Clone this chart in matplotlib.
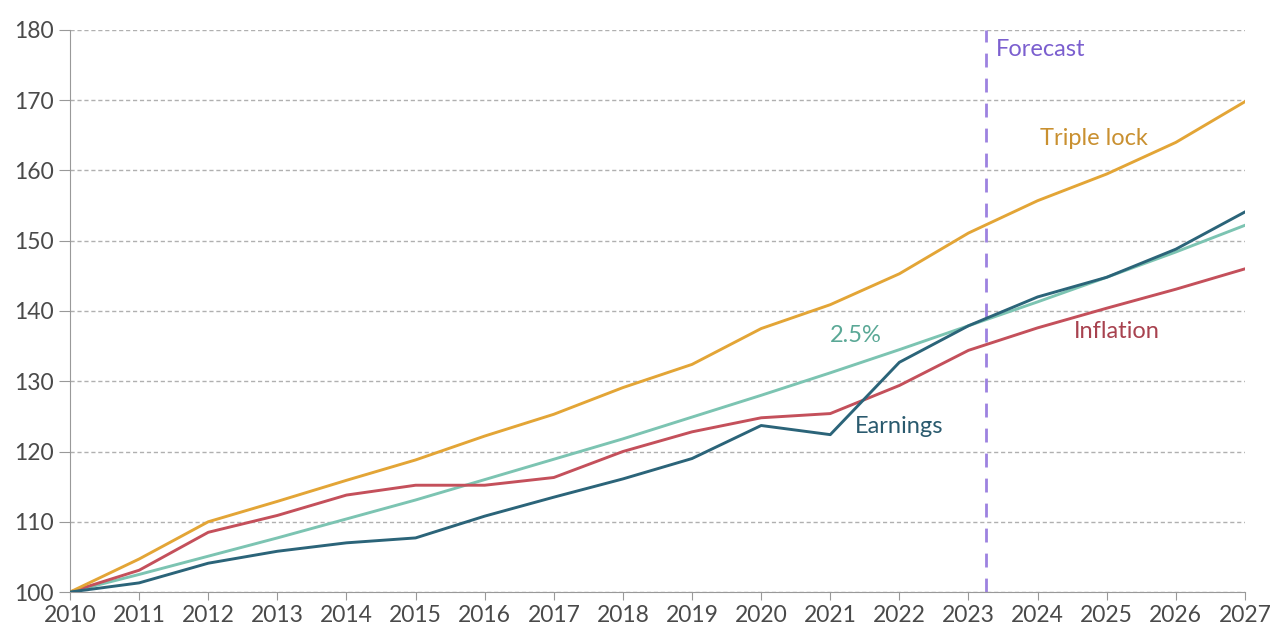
import matplotlib
matplotlib.use("Agg")
import matplotlib.pyplot as plt

plt.rcParams['font.family'] = ['Lato', 'DejaVu Sans']

# Index values (2010 = 100)
years = list(range(2010, 2028))
triple_lock = [100, 104.7, 110.0, 112.9, 115.9, 118.8, 122.2, 125.3, 129.1, 132.4,
               137.5, 140.9, 145.3, 151.1, 155.7, 159.5, 164.0, 169.8]
earnings = [100, 101.3, 104.1, 105.8, 107.0, 107.7, 110.8, 113.5, 116.1, 119.0,
            123.7, 122.4, 132.7, 137.9, 142.0, 144.8, 148.8, 154.1]
inflation = [100, 103.1, 108.5, 110.9, 113.8, 115.2, 115.2, 116.3, 120.0, 122.8,
             124.8, 125.4, 129.4, 134.4, 137.6, 140.4, 143.1, 146.0]
flat_25 = [100, 102.5, 105.1, 107.7, 110.4, 113.1, 116.0, 118.9, 121.8, 124.9,
           128.0, 131.2, 134.5, 137.9, 141.3, 144.8, 148.4, 152.2]
forecast_start = 2023.25

fig = plt.figure(figsize=(12.71, 6.30), dpi=100)
ax = fig.add_axes([0.0551, 0.0603, 0.9244, 0.8921])

ax.plot(years, flat_25, color='#7cc4b2', lw=2.1, zorder=3)
ax.plot(years, inflation, color='#c4505b', lw=2.1, zorder=4)
ax.plot(years, earnings, color='#2b6479', lw=2.1, zorder=5)
ax.plot(years, triple_lock, color='#e3a536', lw=2.1, zorder=4)

ax.axvline(forecast_start, color='#9d82e0', lw=2, ls=(0, (5, 4)), zorder=2)
ax.text(forecast_start + 0.15, 177.2, 'Forecast', color='#7b5fcf', fontsize=17, va='center')

ax.text(2024.03, 164.6, 'Triple lock', color='#c99030', fontsize=17, va='center')
ax.text(2021.0, 136.5, '2.5%', color='#5aa896', fontsize=17, va='center')
ax.text(2024.53, 137.1, 'Inflation', color='#a8424f', fontsize=17, va='center')
ax.text(2021.36, 123.5, 'Earnings', color='#2a5a6e', fontsize=17, va='center')

ax.set_xlim(2010, 2027)
ax.set_ylim(100, 180)
ax.set_xticks(years)
ax.set_yticks(range(100, 181, 10))
ax.grid(axis='y', color='#b0b0b0', ls=(0, (3, 2)), lw=1)
ax.set_axisbelow(True)

for side in ['top', 'right']:
    ax.spines[side].set_visible(False)
for side in ['left', 'bottom']:
    ax.spines[side].set_color('#999999')
ax.tick_params(axis='both', colors='#999999', labelcolor='#4a4a4a', labelsize=16.5)
ax.tick_params(axis='y', length=8, pad=4)
ax.tick_params(axis='x', length=6, pad=3)

fig.savefig('out.png', dpi=100)
